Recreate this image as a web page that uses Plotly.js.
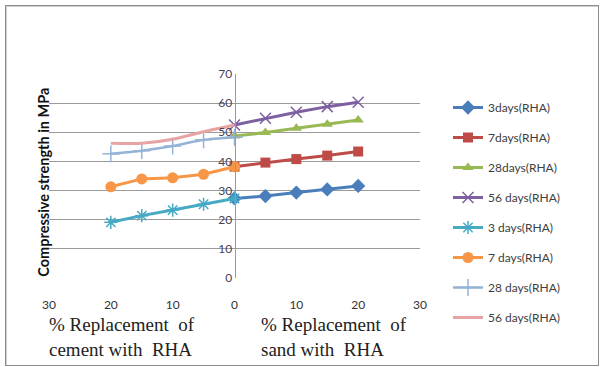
<!DOCTYPE html>
<html><head><meta charset="utf-8">
<script src="https://cdn.plot.ly/plotly-3.0.1.min.js"></script>
<style>
html,body{margin:0;padding:0;background:#fff;}
#wrap{position:relative;width:600px;height:367px;}
#frame{position:absolute;left:5px;top:5px;width:592px;height:359px;border:1px solid #8c8c8c;box-shadow:inset 1px 1px 0 #d0d0d0;pointer-events:none;}
#chart{position:absolute;left:0;top:0;width:600px;height:367px;}
</style></head>
<body><div id="wrap"><div id="chart"></div><div id="frame"></div></div>
<script>
// Sand replacement (positive x) and cement replacement (negative x)
const xSand = [0, 5, 10, 15, 20];
const xCement = [-20, -15, -10, -5, 0];
const sand3 = [27.3, 28.1, 29.3, 30.4, 31.6];
const sand7 = [38.2, 39.6, 40.8, 42.0, 43.4];
const sand28 = [48.7, 49.9, 51.4, 52.8, 54.2];
const sand56 = [52.5, 54.8, 56.9, 58.8, 60.3];
const cem3 = [19.1, 21.4, 23.3, 25.3, 27.3];
const cem7 = [31.3, 34.0, 34.4, 35.6, 38.2];
const cem28 = [42.6, 43.7, 45.3, 47.4, 48.3];
const cem56 = [46.2, 46.2, 47.6, 50.2, 52.5];
const names = ['3days(RHA)', '7days(RHA)', '28days(RHA)', '56 days(RHA)',
               '3 days(RHA)', '7 days(RHA)', '28 days(RHA)', '56 days(RHA)'];
const xTickVals = [-30, -20, -10, 0, 10, 20, 30];
const xTickText = ['30', '20', '10', '0', '10', '20', '30'];
const yTickVals = [0, 10, 20, 30, 40, 50, 60, 70];

function tr(x, y, i, color, sym, size, width, shape, mline) {
  const t = {x: x, y: y, name: names[i], legendgroup: 'g' + i, type: 'scatter',
    mode: sym ? 'lines+markers' : 'lines',
    line: {color: color, width: width, shape: shape || 'linear', smoothing: 0.6}};
  if (sym) t.marker = {symbol: sym, size: size, color: color, line: {color: color, width: mline || 0}};
  return t;
}
const data = [
  tr(xSand, sand3, 0, '#4A7EBB', 'diamond', 11, 3),
  tr(xSand, sand7, 1, '#BE4B48', 'square', 10, 3),
  tr(xSand, sand28, 2, '#98B954', 'triangle-up', 10, 3),
  tr(xSand, sand56, 3, '#7D60A0', 'x-thin-open', 11, 3, 'linear', 1.5),
  tr(xCement, cem3, 4, '#46AAC5', 'asterisk-open', 11, 3, 'linear', 1.5),
  tr(xCement, cem7, 5, '#F79646', 'circle', 11, 3),
  tr(xCement, cem28, 6, '#95B3D7', 'cross-thin-open', 12, 2.5, 'spline', 1.5),
  tr(xCement, cem56, 7, '#E6A5A3', null, 0, 3, 'spline')
];
const layout = {
  width: 600, height: 367,
  margin: {l: 49, r: 180, t: 74, b: 89},
  paper_bgcolor: '#fff', plot_bgcolor: '#fff',
  font: {family: 'Lato, "Open Sans", sans-serif', size: 12, color: '#333'},
  showlegend: true,
  xaxis: {range: [-30, 30], tickvals: xTickVals, ticktext: xTickText,
    showgrid: false, zeroline: false, showline: false, ticks: '',
    ticklabelstandoff: 18, tickfont: {size: 12, color: '#333'}},
  yaxis: {range: [0, 70], tickvals: yTickVals, showgrid: true, gridcolor: '#9a9a9a', gridwidth: 1,
    zeroline: false, showline: true, linecolor: '#9a9a9a', linewidth: 1,
    anchor: 'free', position: 0.5, ticks: '', tickfont: {size: 12, color: '#4a3f55'}},
  legend: {xref: 'container', yref: 'container', x: 448/600, y: 1 - 93/367,
    xanchor: 'left', yanchor: 'top', traceorder: 'grouped', tracegroupgap: 11,
    maxheight: 400,
    font: {size: 12, color: '#404040'}, bgcolor: 'rgba(0,0,0,0)', itemwidth: 30},
  annotations: [
    {text: 'Compressive strength in MPa', textangle: -90, xref: 'paper', yref: 'paper',
     x: -0.043, y: 0.47, showarrow: false, font: {size: 14.5, color: '#111', weight: 'bold'}},
    {text: '% Replacement  of<br>cement with  RHA', xref: 'paper', yref: 'paper',
     x: -0.005, y: -0.165, xanchor: 'left', yanchor: 'top', align: 'left', showarrow: false,
     font: {family: '"Liberation Serif", "DejaVu Serif", serif', size: 19, color: '#222'}},
    {text: '% Replacement  of<br>sand with  RHA', xref: 'paper', yref: 'paper',
     x: 0.566, y: -0.165, xanchor: 'left', yanchor: 'top', align: 'left', showarrow: false,
     font: {family: '"Liberation Serif", "DejaVu Serif", serif', size: 19, color: '#222'}}
  ]
};
Plotly.newPlot('chart', data, layout, {displayModeBar: false, staticPlot: true});
</script></body></html>
